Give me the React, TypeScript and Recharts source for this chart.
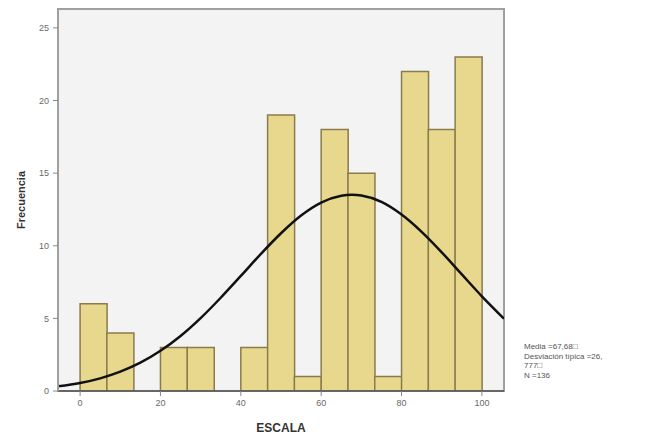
import React from 'react';
import { ComposedChart, Bar, Line, XAxis, YAxis, CartesianGrid, ReferenceArea } from 'recharts';

// Histogram bins (width 20/3) – centres and counts
const binCenters = [3.333, 10, 16.667, 23.333, 30, 36.667, 43.333, 50, 56.667, 63.333, 70, 76.667, 83.333, 90, 96.667];
const binCounts = [6, 4, 0, 3, 3, 0, 3, 19, 1, 18, 15, 1, 22, 18, 23];

// Normal curve points
const curveX = [-5.5, 0, 5, 10, 15, 20, 25, 30, 35, 40, 45, 50, 55, 60, 65, 67.68, 70, 75, 80, 85, 90, 95, 100, 105.5];
const curveY = [0.32, 0.55, 0.87, 1.33, 1.95, 2.77, 3.79, 5.02, 6.42, 7.92, 9.44, 10.86, 12.08, 12.97, 13.44, 13.51, 13.46, 13.02, 12.15, 10.96, 9.55, 8.03, 6.52, 4.98];

const xTicks = [0, 20, 40, 60, 80, 100];
const yTicks = [0, 5, 10, 15, 20, 25];
const xDomain = [-5.5, 105.5];
const yDomain = [0, 26.3];

const statLines = ['Media =67,68\u25A1', 'Desviaci\u00f3n t\u00edpica =26,', '777\u25A1', 'N =136'];

const histData = binCenters.map((x, i) => ({ x, count: binCounts[i] }));
const curveData = curveX.map((x, i) => ({ x, y: curveY[i] }));

const FONT = "Arial, 'Liberation Sans', sans-serif";
const tickStyle = { fontSize: 9, fill: '#6a6a6a', fontFamily: FONT };

const YLabel = (props: any) => {
  const vb = props.viewBox || { x: 0, y: 0, width: 0, height: 0 };
  const cx = vb.x + 21;
  const cy = vb.y + vb.height / 2;
  return (
    <text
      x={cx}
      y={cy}
      transform={`rotate(-90 ${cx} ${cy})`}
      textAnchor="middle"
      dominantBaseline="central"
      style={{ fontSize: 11, fontWeight: 'bold', fill: '#333', fontFamily: FONT }}
    >
      Frecuencia
    </text>
  );
};

export default function App() {
  return (
    <div style={{ position: 'absolute', left: 0, top: 0, width: 654, height: 436, background: '#ffffff' }}>
      <ComposedChart
        width={654}
        height={436}
        data={histData}
        margin={{ top: 9, right: 150, bottom: 0, left: 0 }}
        barCategoryGap={0}
        barGap={0}
      >
        <CartesianGrid horizontal={false} vertical={false} fill="#f3f3f3" />
        <XAxis
          xAxisId="bins"
          dataKey="x"
          type="number"
          domain={xDomain}
          ticks={xTicks}
          allowDataOverflow
          height={45}
          tickSize={5}
          tickMargin={4}
          tick={tickStyle}
          axisLine={{ stroke: '#555', strokeWidth: 1.5 }}
          tickLine={{ stroke: '#888' }}
          label={{
            value: 'ESCALA',
            position: 'insideBottom',
            offset: 4,
            style: { fontSize: 12, fontWeight: 'bold', fill: '#333', fontFamily: FONT },
          }}
        />
        <XAxis
          xAxisId="curve"
          dataKey="x"
          type="number"
          domain={xDomain}
          allowDataOverflow
          hide
        />
        <YAxis
          type="number"
          domain={yDomain}
          ticks={yTicks}
          allowDataOverflow
          width={58}
          tickSize={5}
          tickMargin={4}
          tick={tickStyle}
          axisLine={{ stroke: '#a0a0a0', strokeWidth: 2 }}
          tickLine={{ stroke: '#888' }}
          label={<YLabel />}
        />
        <ReferenceArea
          xAxisId="bins"
          x1={xDomain[0]}
          x2={xDomain[1]}
          y1={yDomain[0]}
          y2={yDomain[1]}
          fill="none"
          fillOpacity={0}
          stroke="#a0a0a0"
          strokeWidth={2}
          ifOverflow="visible"
        />
        <Bar
          xAxisId="bins"
          dataKey="count"
          fill="#e7d88e"
          stroke="#8a7b4c"
          strokeWidth={1.5}
          isAnimationActive={false}
        />
        <Line
          xAxisId="curve"
          data={curveData}
          dataKey="y"
          type="monotone"
          stroke="#111"
          strokeWidth={2.5}
          dot={false}
          activeDot={false}
          isAnimationActive={false}
        />
      </ComposedChart>
      <div
        style={{
          position: 'absolute',
          left: 524,
          top: 342,
          fontFamily: FONT,
          fontSize: 8,
          lineHeight: '9.5px',
          color: '#555',
          whiteSpace: 'nowrap',
        }}
      >
        {statLines.map((l, i) => (
          <div key={i}>{l}</div>
        ))}
      </div>
    </div>
  );
}
